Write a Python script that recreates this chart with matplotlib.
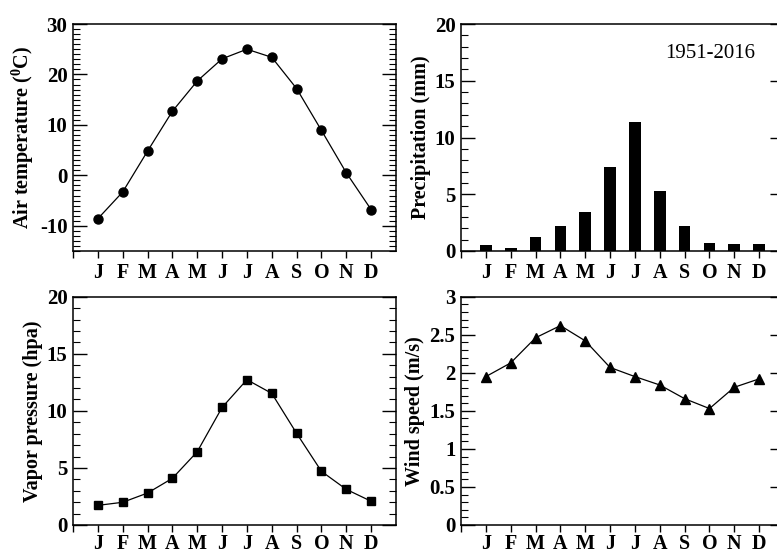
import matplotlib
matplotlib.use("Agg")
import matplotlib.pyplot as plt
from matplotlib.ticker import MultipleLocator, FixedLocator, FuncFormatter

plt.rcParams['font.family'] = ['Liberation Serif', 'DejaVu Serif']
plt.rcParams['font.weight'] = 'bold'
plt.rcParams['axes.unicode_minus'] = False
plt.rcParams['mathtext.fontset'] = 'custom'
plt.rcParams['mathtext.rm'] = 'Liberation Serif:bold'
plt.rcParams['mathtext.bf'] = 'Liberation Serif:bold'

months = ['J', 'F', 'M', 'A', 'M', 'J', 'J', 'A', 'S', 'O', 'N', 'D']
temperature = [-8.6, -3.3, 4.8, 12.7, 18.7, 23.1, 25.0, 23.4, 17.2, 8.9, 0.5, -6.8]
precipitation = [0.52, 0.27, 1.2, 2.2, 3.47, 7.4, 11.4, 5.3, 2.2, 0.72, 0.65, 0.6]
vapor = [1.72, 1.99, 2.8, 4.09, 6.42, 10.3, 12.73, 11.53, 8.03, 4.7, 3.12, 2.08]
wind = [1.95, 2.13, 2.46, 2.62, 2.42, 2.07, 1.95, 1.84, 1.66, 1.53, 1.81, 1.92]
period_label = '1951-2016'

W, H = 777, 554
fig = plt.figure(figsize=(W / 100, H / 100), dpi=100)

def add_ax(left, right, top, bottom):
    return fig.add_axes([left / W, 1 - bottom / H, (right - left) / W, (bottom - top) / H])

ax1 = add_ax(73, 396, 24, 251)
ax2 = add_ax(461, 784, 24, 251)
ax3 = add_ax(73, 396, 296.7, 525)
ax4 = add_ax(461, 784, 296.7, 525)

x = list(range(1, 13))
FS_Y = 15
FS_X = 14.5
FS_LAB = 14.5

def style(ax, ylim, major, minor, ylabel, xpad):
    ax.set_xlim(0, 13)
    ax.set_ylim(*ylim)
    ax.xaxis.set_major_locator(FixedLocator(list(range(0, 13))))
    ax.set_xticklabels([''] + months)
    ax.yaxis.set_major_locator(MultipleLocator(major))
    ax.yaxis.set_minor_locator(MultipleLocator(minor))
    ax.yaxis.set_major_formatter(FuncFormatter(lambda v, p: '%g' % round(v, 3)))
    ax.tick_params(axis='x', which='major', direction='out', length=5, width=1,
                   bottom=True, top=False, labelsize=FS_X, pad=xpad)
    ax.tick_params(axis='x', which='minor', bottom=False, top=False)
    ax.tick_params(axis='y', which='major', direction='in', length=10, width=1,
                   left=True, right=True, labelsize=FS_Y, pad=4)
    ax.tick_params(axis='y', which='minor', direction='in', length=5, width=0.8,
                   left=True, right=True)
    for lab in ax.get_xticklabels() + ax.get_yticklabels():
        lab.set_fontweight('bold')
    for s in ax.spines.values():
        s.set_linewidth(1.1)
    ax.set_ylabel(ylabel, fontsize=FS_LAB, fontweight='bold', labelpad=3)

ax1.plot(x, temperature, color='black', lw=0.9, marker='o', ms=6.5)
style(ax1, (-15, 30), 10, 1, r'Air temperature ($^{0}$C)', 4)

ax2.bar(x, precipitation, width=0.47, color='black')
style(ax2, (0, 20), 5, 1, 'Precipitation (mm)', 4)
ax2.text(0.771, 0.872, period_label, transform=ax2.transAxes, fontsize=15,
         fontweight='normal', ha='center', va='center')

ax3.plot(x, vapor, color='black', lw=0.9, marker='s', ms=5.5)
style(ax3, (0, 20), 5, 1, 'Vapor pressure (hpa)', 1.5)

ax4.plot(x, wind, color='black', lw=0.9, marker='^', ms=6.5)
style(ax4, (0, 3), 0.5, 0.1, 'Wind speed (m/s)', 1.5)

fig.savefig('out.png', dpi=100)
